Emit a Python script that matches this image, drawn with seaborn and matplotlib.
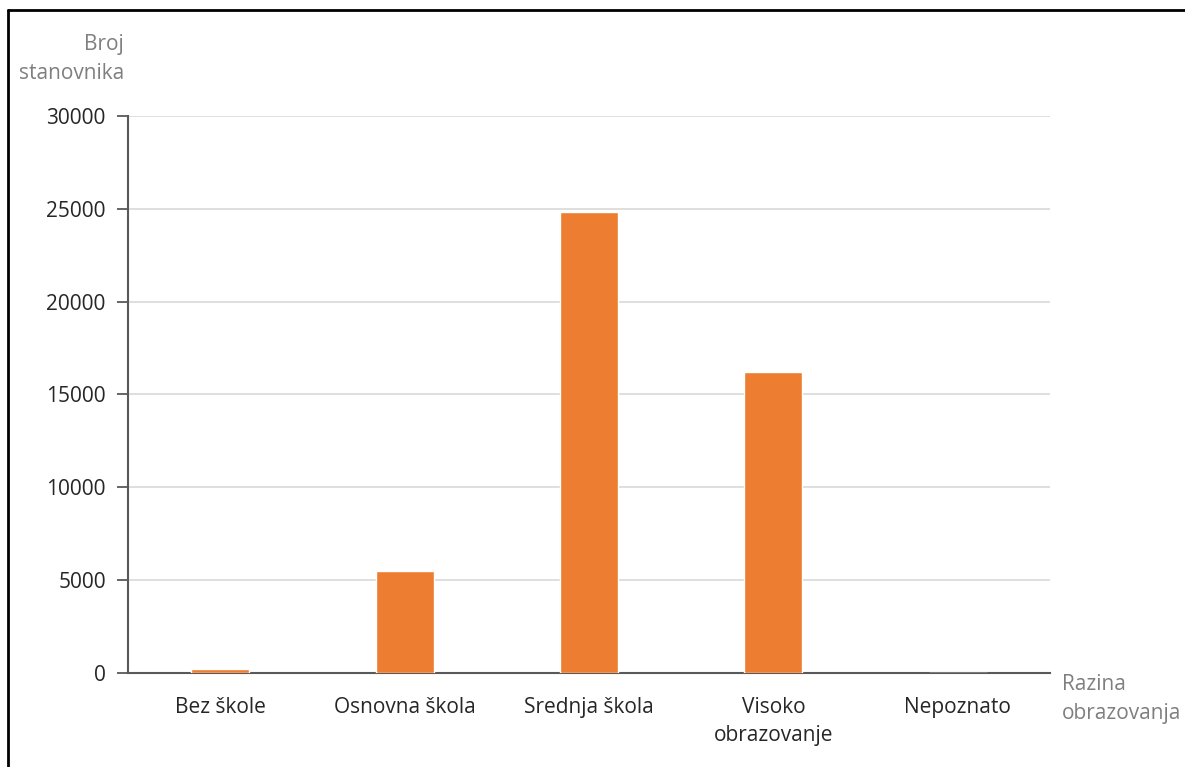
import matplotlib
matplotlib.use("Agg")
import matplotlib.pyplot as plt
import seaborn as sns
import pandas as pd
from matplotlib.lines import Line2D

# podaci
kategorije = ["Bez škole", "Osnovna škola", "Srednja škola", "Visoko\nobrazovanje", "Nepoznato"]
broj_stanovnika = [200, 5500, 24850, 16200, 0]
y_ticks = [0, 5000, 10000, 15000, 20000, 25000, 30000]

df = pd.DataFrame({"kategorija": kategorije, "broj": broj_stanovnika})

sns.set_theme(style="white")
plt.rcParams["font.family"] = ["Open Sans", "DejaVu Sans"]

fig = plt.figure(figsize=(11.85, 7.67), dpi=100)
ax = fig.add_axes([128 / 1185, 1 - 673 / 767, (1050 - 128) / 1185, (673 - 116) / 767])

sns.barplot(data=df, x="kategorija", y="broj", color="#ED7D31", width=0.315,
            saturation=1, ax=ax, zorder=3)

ax.set_ylim(0, 30000)
ax.set_xlim(-0.5, 4.5)
ax.set_yticks(y_ticks)
ax.set_yticklabels([str(t) for t in y_ticks], fontsize=15, color="#262626")
ax.tick_params(axis="x", bottom=False, length=0, labelsize=15, labelcolor="#262626", pad=17)
ax.tick_params(axis="y", left=True, length=8, width=1.3, color="#595959", direction="out", pad=8)
for lbl in ax.get_xticklabels():
    lbl.set_linespacing(1.45)
ax.grid(axis="y", color="#d9d9d9", linewidth=1.2, zorder=0)
ax.set_xlabel("")
ax.set_ylabel("")

for s in ["top", "right"]:
    ax.spines[s].set_visible(False)
for s in ["left", "bottom"]:
    ax.spines[s].set_color("#595959")
    ax.spines[s].set_linewidth(1.5)

fig.text(124 / 1185, 1 - 59 / 767, "Broj\nstanovnika", ha="right", va="center",
         fontsize=15, color="#7f7f7f", linespacing=1.55)
fig.text(1062 / 1185, 1 - 699 / 767, "Razina\nobrazovanja", ha="left", va="center",
         fontsize=15, color="#7f7f7f", linespacing=1.55)

# okvir slike (gore i lijevo)
fig.add_artist(Line2D([8 / 1185, 8 / 1185], [0, 1 - 10 / 767], transform=fig.transFigure,
                      color="black", linewidth=2))
fig.add_artist(Line2D([8 / 1185, 1], [1 - 10 / 767, 1 - 10 / 767], transform=fig.transFigure,
                      color="black", linewidth=2))

fig.savefig("out.png", dpi=100, facecolor="white")
